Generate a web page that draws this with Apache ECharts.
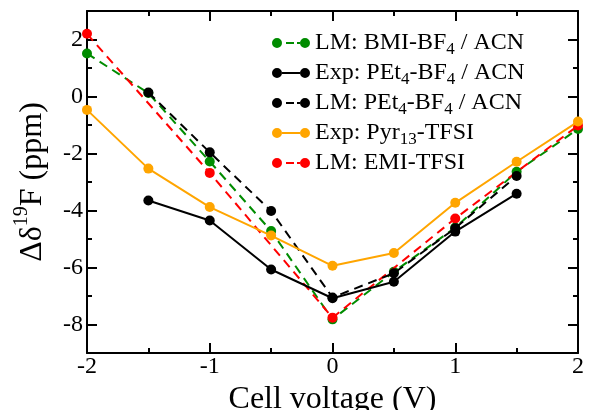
<!DOCTYPE html>
<html>
<head>
<meta charset="utf-8">
<script src="https://cdn.jsdelivr.net/npm/echarts@6/dist/echarts.min.js"></script>
<style>
  html, body { margin: 0; padding: 0; background: #fff; }
  #chart { width: 589px; height: 410px; }
</style>
</head>
<body>
<div id="chart"></div>
<script>
(function () {

    // cell voltage (V)
    var voltages = [-2, -1.5, -1, -0.5, 0, 0.5, 1, 1.5, 2];

    // chemical shift, ppm (null = no point)
    var lmBmiBf4 = [1.51, 0.12, -2.28, -4.72, -7.82, -6.15, -4.6, -2.64, -1.14];
    var expPet4Bf4 = [null, -3.65, -4.35, -6.07, -7.08, -6.5, -4.74, -3.41, null];
    var lmPet4Bf4 = [null, 0.14, -1.96, -4.02, -7.05, -6.2, -4.62, -2.79, null];
    var expPyr13 = [-0.47, -2.53, -3.88, -4.88, -5.94, -5.49, -3.73, -2.29, -0.88];
    var lmEmiTfsi = [2.2, null, -2.68, null, -7.76, null, -4.28, null, -1.02];

    // tick values
    var yMajor = [-8, -6, -4, -2, 0, 2];
    var yMinor = [-9, -7, -5, -3, -1, 1, 3];

    var seriesNames = [
        'LM: BMI-BF4 / ACN',
        'Exp: PEt4-BF4 / ACN',
        'LM: PEt4-BF4 / ACN',
        'Exp: Pyr13-TFSI',
        'LM: EMI-TFSI'
    ];
    var legendText = [
        'LM: BMI-BF{sub|4} / ACN',
        'Exp: PEt{sub|4}-BF{sub|4} / ACN',
        'LM: PEt{sub|4}-BF{sub|4} / ACN',
        'Exp: Pyr{sub|13}-TFSI',
        'LM: EMI-TFSI'
    ];

    var serif = '"Liberation Serif", "DejaVu Serif", serif';

    // legend icons: dot - line - dot
    var solidIcon = 'path://M0,5A5,5 0 1,1 10,5A5,5 0 1,1 0,5Z M10,4L28,4L28,6L10,6Z M28,5A5,5 0 1,1 38,5A5,5 0 1,1 28,5Z';
    var dashIcon = 'path://M0,5A5,5 0 1,1 10,5A5,5 0 1,1 0,5Z M14,4L22,4L22,6L14,6Z M25,4L28,4L28,6L25,6Z M28,5A5,5 0 1,1 38,5A5,5 0 1,1 28,5Z';

    function pairs(ys) {
        var out = [];
        for (var i = 0; i < voltages.length; i++) {
            if (ys[i] !== null) out.push([voltages[i], ys[i]]);
        }
        return out;
    }

    function makeSeries(name, ys, color, dashed, z) {
        return {
            name: name,
            type: 'line',
            data: pairs(ys),
            z: z,
            symbol: 'circle',
            symbolSize: 10,
            showSymbol: true,
            animation: false,
            itemStyle: {color: color},
            lineStyle: {color: color, width: 2, type: dashed ? [9, 6] : 'solid'},
            emphasis: {disabled: true}
        };
    }

    var axisLine = {show: true, onZero: false, lineStyle: {color: '#000', width: 2}};

    function tick(len, values) {
        var t = {show: true, inside: true, length: len, lineStyle: {color: '#000', width: 2}};
        if (values) t.customValues = values;
        return t;
    }

    var minorX = {show: true, splitNumber: 2, length: 5, lineStyle: {color: '#000', width: 2}};

    // extra y axis only drawing short ticks at odd values
    function yMinorAxis(pos) {
        return {
            type: 'value', position: pos, min: -9, max: 3, interval: 1,
            axisLine: {show: false, onZero: false},
            axisTick: tick(5, yMinor),
            splitLine: {show: false},
            axisLabel: {show: false}
        };
    }

    var chart = echarts.init(document.getElementById('chart'), null, {renderer: 'canvas'});

    var option = {
        backgroundColor: '#fff',
        grid: {left: 87, right: 11, top: 11, bottom: 57, containLabel: false, outerBoundsMode: 'none'},
        legend: {
            orient: 'vertical',
            left: 267,
            top: 23,
            itemGap: 0,
            itemWidth: 38,
            itemHeight: 10,
            selectedMode: false,
            data: seriesNames.map(function (n, i) {
                return {name: n, icon: (i === 1 || i === 3) ? solidIcon : dashIcon};
            }),
            formatter: function (name) {
                return legendText[seriesNames.indexOf(name)];
            },
            textStyle: {
                fontFamily: serif,
                fontSize: 24,
                lineHeight: 30,
                color: '#000',
                rich: {
                    sub: {fontFamily: serif, fontSize: 17, lineHeight: 16, verticalAlign: 'bottom', color: '#000'}
                }
            }
        },
        xAxis: [{
            type: 'value',
            min: -2,
            max: 2,
            interval: 1,
            name: 'Cell voltage (V)',
            nameLocation: 'middle',
            nameGap: 29,
            nameTextStyle: {fontFamily: serif, fontSize: 32, color: '#000'},
            axisLine: axisLine,
            axisTick: tick(10),
            minorTick: minorX,
            splitLine: {show: false},
            axisLabel: {fontFamily: serif, fontSize: 24, color: '#000', margin: 2}
        }, {
            type: 'value',
            position: 'top',
            min: -2,
            max: 2,
            interval: 1,
            axisLine: axisLine,
            axisTick: tick(10),
            minorTick: minorX,
            splitLine: {show: false},
            axisLabel: {show: false}
        }],
        yAxis: [{
            type: 'value',
            min: -9,
            max: 3,
            interval: 1,
            name: 'Δδ{sup|19}F (ppm)',
            nameLocation: 'middle',
            nameGap: 19,
            nameTextStyle: {
                fontFamily: serif,
                fontSize: 32,
                lineHeight: 40,
                color: '#000',
                rich: {
                    sup: {fontFamily: serif, fontSize: 20, lineHeight: 20, verticalAlign: 'top', color: '#000'}
                }
            },
            axisLine: axisLine,
            axisTick: tick(10, yMajor),
            splitLine: {show: false},
            axisLabel: {
                fontFamily: serif,
                fontSize: 24,
                color: '#000',
                margin: 4,
                customValues: yMajor
            }
        }, {
            type: 'value',
            position: 'right',
            min: -9,
            max: 3,
            interval: 1,
            axisLine: axisLine,
            axisTick: tick(10, yMajor),
            splitLine: {show: false},
            axisLabel: {show: false}
        }, yMinorAxis('left'), yMinorAxis('right')],
        series: [
            makeSeries(seriesNames[0], lmBmiBf4, '#008c00', true, 2),
            makeSeries(seriesNames[1], expPet4Bf4, '#000000', false, 5),
            makeSeries(seriesNames[2], lmPet4Bf4, '#000000', true, 4),
            makeSeries(seriesNames[3], expPyr13, '#ffa500', false, 6),
            makeSeries(seriesNames[4], lmEmiTfsi, '#ff0000', true, 3)
        ]
    };

    chart.setOption(option);
})();
</script>
</body>
</html>
